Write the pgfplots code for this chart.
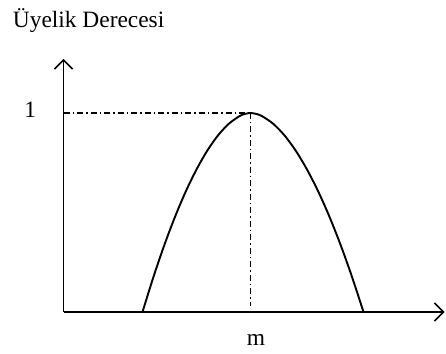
\documentclass[border=0pt]{standalone}
\usepackage{pgfplots}
\pgfplotsset{compat=1.18}
\usepackage{fontspec}
\setmainfont{Liberation Serif}
\usetikzlibrary{arrows.meta}
\begin{document}
\begin{tikzpicture}
\path[use as bounding box] (-63.5bp,-42bp) rectangle (382.5bp,312bp);
\begin{axis}[
  anchor=south west, at={(0,0)},
  scale only axis, width=381bp, height=253bp,
  xmin=0, xmax=381, ymin=0, ymax=253,
  axis lines=left,
  axis line style={line width=1.9bp, -{Straight Barb[length=9bp,width=18bp,line width=1.5bp]}},
  ticks=none,
  clip=false,
]
\addplot[black, line width=1.9bp, smooth, tension=0.5] coordinates {
(79,0) (89.8,34.6) (100.6,66.3) (111.4,94.9) (122.2,120.4) (133,142.5) (143.8,161.4) (154.6,176.7) (165.4,188.3) (176.2,196.0) (181.6,198.1) (187,199)
(192.65,198.1) (198.3,196.0) (209.6,188.3) (220.9,176.7) (232.2,161.4) (243.5,142.5) (254.8,120.4) (266.1,94.9) (277.4,66.3) (288.7,34.6) (300,0)
};
\addplot[black, line width=1.5bp, dash pattern=on 6bp off 3bp on 1.5bp off 3bp] coordinates {(0,199) (187,199)};
\addplot[black, line width=1.5bp, dash pattern=on 6bp off 3bp on 1.5bp off 3bp] coordinates {(187,199) (187,6)};
\end{axis}
\node[anchor=base west, inner sep=0pt, font=\fontsize{23.5}{26}\selectfont] at (-50.8bp,284bp) {Üyelik Derecesi};
\node[anchor=base, inner sep=0pt, font=\fontsize{23.5}{26}\selectfont] at (192.5bp,-33bp) {m};
\node[anchor=base, inner sep=0pt, font=\fontsize{23.5}{26}\selectfont] at (-33.2bp,194bp) {1};
\end{tikzpicture}
\end{document}
